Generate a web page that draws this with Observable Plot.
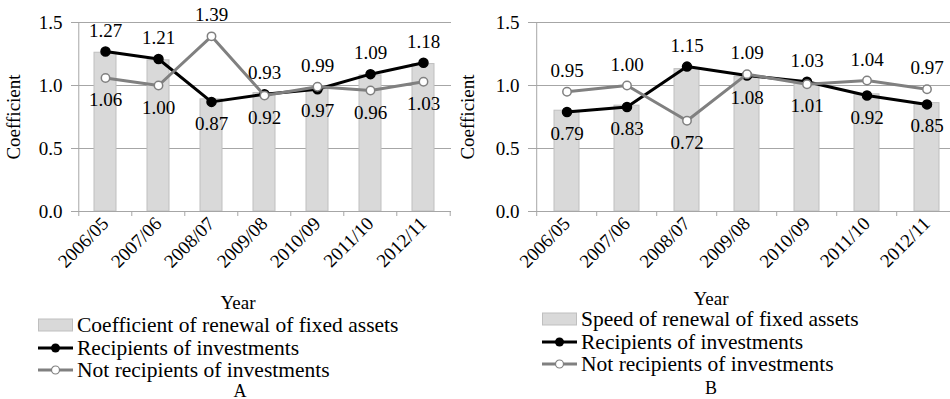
<!DOCTYPE html>
<html>
<head>
<meta charset="utf-8">
<script src="https://cdn.jsdelivr.net/npm/d3@7"></script>
<script src="https://cdn.jsdelivr.net/npm/@observablehq/plot@0.6"></script>
<style>
  html, body { margin: 0; padding: 0; background: #fff; }
  #wrap { position: relative; width: 950px; height: 399px; overflow: hidden; background: #fff;
          font-family: "Liberation Serif", "Times New Roman", serif; color: #000; }
  .abs { position: absolute; }
  .xlabel { font-size: 19px; line-height: 17px; transform: translate(-50%, -50%); white-space: nowrap; }
  .legend { font-size: 21.5px; line-height: 22.5px; }
  .legend .row { display: flex; align-items: center; height: 22.5px; white-space: nowrap; }
  .legend svg { margin-right: 4px; flex: none; }
  .panel-letter { font-size: 18px; line-height: 15px; transform: translate(-50%, -50%); }
  #A svg, #B svg { max-width: none !important; height: auto; }
</style>
</head>
<body>
<div id="wrap">
  <div id="A" class="abs" style="left:0;top:0;width:470px"></div>
  <div id="B" class="abs" style="left:455px;top:0;width:505px"></div>
  <div class="abs xlabel" style="left:238px;top:302px">Year</div>
  <div class="abs xlabel" style="left:711px;top:298px">Year</div>
  <div id="legA" class="abs legend" style="left:38px;top:314px"></div>
  <div id="legB" class="abs legend" style="left:542px;top:308px"></div>
  <div class="abs panel-letter" style="left:240px;top:391px">A</div>
  <div class="abs panel-letter" style="left:711px;top:388px">B</div>
</div>
<script>
// ---- data ----
const years = ["2006/05", "2007/06", "2008/07", "2009/08", "2010/09", "2011/10", "2012/11"];
const yTicks = [0, 0.5, 1.0, 1.5];

// Panel A
const renewalA = [1.26, 1.20, 0.89, 0.94, 0.98, 1.08, 1.17];
const recipientsA = [1.27, 1.21, 0.87, 0.93, 0.97, 1.09, 1.18];
const nonRecipientsA = [1.06, 1.00, 1.39, 0.92, 0.99, 0.96, 1.03];
const recipientsAPlace = ["above", "above", "below", "above", "below", "above", "above"];
const nonRecipientsAPlace = ["below", "below", "above", "below", "above", "below", "below"];

// Panel B
const speedB = [0.80, 0.84, 1.13, 1.07, 1.02, 0.93, 0.86];
const recipientsB = [0.79, 0.83, 1.15, 1.08, 1.03, 0.92, 0.85];
const nonRecipientsB = [0.95, 1.00, 0.72, 1.09, 1.01, 1.04, 0.97];
const recipientsBPlace = ["below", "below", "above", "below", "above", "below", "below"];
const nonRecipientsBPlace = ["above", "above", "below", "above", "below", "above", "above"];

const legendA = ["Coefficient of renewal of fixed assets", "Recipients of investments", "Not recipients of investments"];
const legendB = ["Speed of renewal of fixed assets", "Recipients of investments", "Not recipients of investments"];

// ---- drawing ----
const GRID = "#a6a6a6";
const BAR_FILL = "#d9d9d9";
const BAR_STROKE = "#bfbfbf";
const GRAY = "#808080";

function panel(cfg) {
  const {width, ml, mr, bars, recip, nonRecip, recipPlace, nonPlace, labelOffset} = cfg;
  const step = (width - ml - mr) / years.length;
  const barData = years.map((year, i) => ({year, value: bars[i]}));
  const rec = years.map((year, i) => ({year, value: recip[i], place: recipPlace[i]}));
  const non = years.map((year, i) => ({year, value: nonRecip[i], place: nonPlace[i]}));
  const labels = (data) => [
    Plot.text(data.filter(d => d.place === "above"), {x: "year", y: "value", text: d => d.value.toFixed(2), dy: -21, fill: "black"}),
    Plot.text(data.filter(d => d.place === "below"), {x: "year", y: "value", text: d => d.value.toFixed(2), dy: 22, fill: "black"})
  ];
  return Plot.plot({
    width,
    height: 272,
    marginTop: 22,
    marginBottom: 61,
    marginLeft: ml,
    marginRight: mr,
    style: {fontFamily: "'Liberation Serif', 'Times New Roman', serif", fontSize: "19px", color: "#000", background: "transparent", overflow: "visible", maxWidth: "none"},
    x: {domain: years, paddingInner: 0.59, paddingOuter: 0.295, label: null},
    y: {domain: [0, 1.5], label: null},
    marks: [
      Plot.ruleY(yTicks.slice(1), {stroke: GRID}),
      Plot.barY(barData, {x: "year", y: "value", fill: BAR_FILL, stroke: BAR_STROKE, strokeWidth: 1}),
      Plot.ruleY([0], {stroke: GRID}),
      Plot.ruleX(years.slice(0, 1), {x: d => d, y1: 0, y2: 1.5, dx: -step / 2, stroke: GRID}),
      Plot.ruleX(years, {x: d => d, y1: 0, y2: 0, insetBottom: -5, dx: -step / 2, stroke: GRID}),
      Plot.ruleX(years.slice(-1), {x: d => d, y1: 0, y2: 0, insetBottom: -5, dx: step / 2, stroke: GRID}),
      Plot.axisY({ticks: yTicks, tickFormat: d => d.toFixed(1), tickSize: 6, tickPadding: 9, stroke: GRID,
                  label: "Coefficient", labelAnchor: "center", labelArrow: "none", labelOffset}),
      Plot.axisX({tickSize: 0, tickRotate: -45, tickPadding: 9, label: null}),
      Plot.line(rec, {x: "year", y: "value", stroke: "black", strokeWidth: 3}),
      Plot.dot(rec, {x: "year", y: "value", r: 4.5, fill: "black", stroke: "black"}),
      Plot.line(non, {x: "year", y: "value", stroke: GRAY, strokeWidth: 3}),
      Plot.dot(non, {x: "year", y: "value", r: 4.2, fill: "white", stroke: GRAY, strokeWidth: 1.5}),
      ...labels(rec),
      ...labels(non)
    ]
  });
}

document.getElementById("A").append(panel({
  width: 470, ml: 77, mr: 19,
  bars: renewalA, recip: recipientsA, nonRecip: nonRecipientsA,
  recipPlace: recipientsAPlace, nonPlace: nonRecipientsAPlace, labelOffset: 71
}));
document.getElementById("B").append(panel({
  width: 505, ml: 79, mr: 2,
  bars: speedB, recip: recipientsB, nonRecip: nonRecipientsB,
  recipPlace: recipientsBPlace, nonPlace: nonRecipientsBPlace, labelOffset: 74
}));

function swatch(kind) {
  const ns = "http://www.w3.org/2000/svg";
  const s = document.createElementNS(ns, "svg");
  s.setAttribute("width", 35); s.setAttribute("height", 14);
  if (kind === 0) {
    s.innerHTML = `<rect x="0.5" y="1" width="34" height="12" fill="${BAR_FILL}" stroke="${BAR_STROKE}"/>`;
  } else if (kind === 1) {
    s.innerHTML = `<line x1="0" x2="35" y1="7" y2="7" stroke="black" stroke-width="3"/><circle cx="17.5" cy="7" r="4.5" fill="black"/>`;
  } else {
    s.innerHTML = `<line x1="0" x2="35" y1="7" y2="7" stroke="${GRAY}" stroke-width="3"/><circle cx="17.5" cy="7" r="4" fill="white" stroke="${GRAY}" stroke-width="1.2"/>`;
  }
  return s;
}
function legend(id, items) {
  const el = document.getElementById(id);
  items.forEach((t, i) => {
    const row = document.createElement("div");
    row.className = "row";
    row.append(swatch(i));
    const span = document.createElement("span");
    span.textContent = t;
    row.append(span);
    el.append(row);
  });
}
legend("legA", legendA);
legend("legB", legendB);
</script>
</body>
</html>
